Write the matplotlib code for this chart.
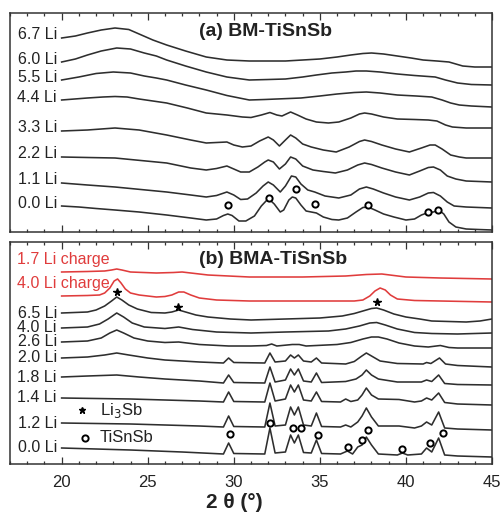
import matplotlib
matplotlib.use("Agg")
import matplotlib.pyplot as plt
from matplotlib.ticker import MultipleLocator

plt.rcParams['font.family'] = ['Liberation Sans', 'DejaVu Sans']

# ---------------- Panel (a) BM-TiSnSb : stacked intensity (a.u.) ----------------
a67_x = [20, 20.8, 21.5, 22.3, 23.1, 23.9, 24.5, 25.3, 26.1, 27.2, 28.4, 29.6, 30.9, 32, 33, 34, 35, 36, 36.8, 37.5, 38, 38.7, 39.5, 40.3, 41, 41.8, 42.5, 42.9, 43.3, 44, 45]
a67_y = [194, 196, 199, 202, 204, 202.5, 198, 192, 187, 181, 175, 172, 171, 171, 171, 172, 173, 175, 177, 178.5, 179, 178, 176, 174, 172, 171, 170, 168, 166, 165, 165]

a60_x = [20, 20.8, 21.5, 22.3, 23.2, 24.0, 24.8, 25.5, 26.1, 27.2, 28.4, 29.6, 30.9, 32, 33, 34.0, 34.8, 35.7, 36.5, 37.1, 37.7, 38.5, 39.5, 40.5, 41.7, 42.3, 43.0, 43.8, 45]
a60_y = [170, 173, 177, 181, 184, 183, 179, 176, 172, 166, 160, 155, 152, 152.5, 153, 155, 157, 159, 160, 161, 161, 160, 158, 156.5, 155, 152, 149, 147.5, 147]

a55_x = [20, 21, 22, 23.0, 24.0, 24.8, 25.5, 26.1, 27.2, 28.4, 29.6, 30.9, 31.8, 32.5, 33.2, 33.9, 35.0, 36, 37.0, 37.7, 38.5, 39.5, 40.6, 41.5, 42.1, 42.6, 43.1, 43.8, 45]
a55_y = [152, 155, 158.5, 160, 159, 156, 154, 152, 147, 142, 136.5, 132, 132.5, 133, 133.5, 134, 136, 138, 139.5, 140, 139, 137, 136, 135, 132, 129, 127, 126, 125]

a44_x = [20, 21.5, 22.4, 23.1, 23.8, 24.5, 25.3, 26.1, 27.3, 28.4, 29.6, 30.5, 31.0, 31.6, 32.1, 32.5, 32.8, 33.3, 33.7, 34.2, 34.8, 35.5, 36.1, 36.8, 37.3, 37.6, 38.0, 38.7, 39.5, 40.5, 41.3, 41.8, 42.3, 42.7, 43.5, 45]
a44_y = [132, 134, 135, 135.5, 135, 133, 131, 129, 124, 119, 117, 115, 114.5, 117, 119.5, 117, 116, 120, 117, 113, 110, 109, 110, 114, 118, 119, 118, 115, 113, 112.5, 112, 111, 107, 105, 104, 104]

a33_x = [20, 21.5, 23.1, 24.5, 26.1, 27.5, 28.4, 29.0, 29.6, 30.0, 30.5, 31.0, 31.5, 32.0, 32.3, 32.65, 33.0, 33.3, 33.6, 34.0, 34.5, 35.2, 35.95, 36.7, 37.3, 37.6, 38.0, 38.6, 39.4, 40.2, 40.9, 41.4, 41.7, 42.1, 42.6, 43.1, 43.5, 45]
a33_y = [101, 102, 104, 102, 97, 92, 89, 89.5, 90, 87, 85, 86, 91, 95, 92, 86, 92, 97, 94, 88, 85, 82, 80, 85, 90.5, 92, 90.5, 87, 83, 80, 84, 87, 87, 83, 77, 75, 74, 74]

a22_x = [20, 21.5, 23.1, 24.6, 26.1, 27.5, 28.4, 29.0, 29.6, 30.0, 30.4, 30.9, 31.4, 31.8, 32.0, 32.3, 32.65, 33.0, 33.3, 33.6, 34.0, 34.6, 35.2, 35.9, 36.6, 37.2, 37.6, 38.0, 38.6, 39.4, 40.2, 40.8, 41.3, 41.6, 42.0, 42.4, 42.9, 43.5, 45]
a22_y = [75, 74.5, 74, 71.5, 69, 64, 62, 63.5, 66, 63, 60, 60, 65, 70, 72, 70, 63, 68, 75, 73, 66, 62, 60.5, 59, 62, 67, 69, 67.5, 64, 60, 57, 61, 64.5, 65, 62, 56, 53, 51, 50]

a11_x = [20, 21.5, 23.1, 24.6, 26.1, 27.5, 28.4, 29.0, 29.6, 30.0, 30.4, 30.8, 31.3, 31.7, 32.0, 32.3, 32.7, 33.0, 33.35, 33.6, 33.9, 34.3, 34.7, 35.3, 36.1, 36.8, 37.3, 37.7, 38.1, 38.7, 39.4, 40.2, 40.8, 41.3, 41.6, 42.0, 42.4, 42.8, 43.5, 45]
a11_y = [49, 47, 45, 42.5, 40, 37, 35, 36.5, 40, 37, 32.5, 33, 39, 46, 50, 47, 40, 46, 56, 55, 48, 42, 40, 36, 34, 37, 43, 45, 43, 39, 35, 32, 35, 39, 39.5, 36, 30, 26, 25, 24]

a00_x = [20, 21, 22, 23.1, 24.5, 26.1, 27.5, 28.4, 29.0, 29.4, 29.65, 29.9, 30.3, 30.7, 31.2, 31.6, 31.9, 32.1, 32.35, 32.7, 32.9, 33.2, 33.4, 33.6, 33.9, 34.2, 34.5, 34.8, 35.2, 35.7, 36.1, 36.6, 37.1, 37.5, 37.8, 38.2, 38.7, 39.3, 40.0, 40.5, 40.9, 41.3, 41.6, 41.9, 42.2, 42.5, 42.9, 43.5, 44.2, 45]
a00_y = [26, 25, 23.5, 22, 20, 17, 14, 12, 13, 16.5, 18, 16.5, 11, 11, 16, 26, 31.5, 32, 28, 20, 22, 32, 35, 34, 27, 21, 20, 19, 15, 12.5, 12, 14, 20, 24.5, 25, 22, 18, 15, 12, 13, 17, 19.5, 20, 22, 18, 10, 5, 3, 2.5, 2]

a_labels = ['6.7 Li', '6.0 Li', '5.5 Li', '4.4 Li', '3.3 Li', '2.2 Li', '1.1 Li', '0.0 Li']
a_tisnsb_x = [29.69, 32.06, 33.63, 34.73, 37.81, 41.29, 41.87]
a_tisnsb_y = [27, 34, 43, 28, 27, 20, 22]

# ---------------- Panel (b) BMA-TiSnSb ----------------
b17c_x = [20, 21.5, 22.5, 22.9, 23.2, 23.5, 24, 25.5, 26.5, 27.0, 27.5, 28.5, 30.9, 34, 36.5, 37.7, 38.6, 39.3, 40, 42, 45]
b17c_y = [192, 192.5, 193, 194, 195, 194, 192, 191, 191.5, 192, 191, 189, 187, 187, 188, 189.5, 190, 188.5, 187, 186, 185]

b40c_x = [20, 21.5, 22.2, 22.5, 22.8, 23.05, 23.25, 23.45, 23.7, 24.0, 24.5, 25.5, 26.0, 26.4, 26.8, 27.1, 27.5, 28.0, 29.0, 30.9, 37.0, 37.5, 37.9, 38.2, 38.5, 38.8, 39.1, 39.5, 40.5, 42, 45]
b40c_y = [168, 168.5, 169, 171, 176, 183, 185, 181, 175, 171, 169, 167, 167.5, 169, 172, 172, 169, 166, 164, 163, 163, 164, 168, 173, 176, 174, 169, 165, 163.5, 163, 162]

b65_x = [20, 21.5, 22.0, 22.5, 22.9, 23.2, 23.5, 23.9, 24.4, 25.2, 26.0, 26.4, 26.8, 27.2, 27.8, 28.5, 29.8, 31, 33, 35, 36.3, 37.0, 37.6, 38.0, 38.3, 38.7, 39.3, 40.0, 40.8, 41.5, 43.5, 44.3, 45]
b65_y = [151, 152, 154, 158, 163, 167, 164, 159, 155, 151.5, 151, 152, 154, 152, 149, 147, 145, 144, 145, 146, 148, 150.5, 153.5, 155.5, 156, 154, 150, 147, 145, 143, 142, 143, 145]

b40_x = [20, 21.5, 22.2, 22.7, 23.2, 23.6, 24.1, 24.8, 26.0, 26.8, 27.6, 29, 31, 33, 35.5, 36.5, 37.3, 37.9, 38.3, 38.8, 39.5, 40.5, 41.5, 43, 45]
b40_y = [136, 137, 140, 145, 151, 147, 141, 137, 135.5, 137, 134.5, 132, 131, 132, 133, 135, 138, 141, 141.5, 139, 135, 131.5, 130.5, 130, 131]

b26_x = [20, 21.5, 22.3, 22.8, 23.2, 23.6, 24.2, 25, 26, 26.8, 28, 29.7, 31, 31.9, 32.2, 32.5, 33.4, 33.8, 34.2, 34.8, 36, 36.8, 37.5, 38.0, 38.4, 38.9, 39.6, 40.5, 41.3, 42.0, 42.5, 43, 45]
b26_y = [122, 123, 126, 131, 134, 131, 126, 123, 121.5, 122, 119.5, 118, 118, 118.5, 120, 118, 119.5, 119.5, 118, 118.5, 119.5, 121.5, 125, 127, 127, 125, 121, 118, 117, 118.5, 116.5, 116, 116]

b20_x = [20, 21.5, 22.5, 23.2, 23.9, 25, 26, 28, 29.4, 29.7, 30.0, 31.8, 32.1, 32.4, 33.0, 33.3, 33.52, 33.75, 34.05, 34.5, 34.8, 35.1, 36.5, 37.0, 37.4, 37.7, 38.0, 38.5, 39.5, 41.0, 41.2, 41.45, 41.95, 42.3, 43, 45]
b20_y = [106, 107, 109, 111, 109, 106, 104, 102, 101, 106, 101.5, 101, 111, 102, 103, 109, 106, 109, 103, 102, 106, 101, 100, 102.5, 107.5, 111, 108, 103, 100.5, 100, 101.5, 100.5, 106, 100, 98.5, 97]

b18_x = [20, 21.5, 23.2, 24.5, 26, 28, 29.4, 29.7, 30.0, 31.8, 32.1, 32.4, 33.0, 33.3, 33.52, 33.75, 34.05, 34.5, 34.8, 35.1, 36.5, 37.1, 37.45, 37.7, 38.0, 38.4, 39.5, 40.9, 41.2, 41.5, 41.9, 42.25, 43, 45]
b18_y = [87, 88, 89, 87, 85, 83, 81, 89, 81.5, 81, 97, 82, 84, 95, 89, 95, 83, 82, 91, 81.5, 82.5, 85, 89, 94, 89, 85, 82, 82, 84, 82.5, 89, 80.5, 79.5, 79]

b14_x = [20, 24, 28, 29.4, 29.7, 30.0, 31.8, 32.1, 32.4, 33.0, 33.3, 33.52, 33.75, 34.05, 34.5, 34.8, 35.1, 36.2, 36.5, 36.8, 37.2, 37.45, 37.7, 38.0, 38.4, 39.6, 40.5, 40.9, 41.2, 41.5, 41.9, 42.25, 43, 45]
b14_y = [66, 65, 63, 62, 72, 62.5, 62, 81, 63, 65, 79, 72, 79, 64, 63, 72, 62.5, 62, 65, 62.5, 64, 69, 76, 69, 65, 64.5, 62, 63, 66, 64, 71, 61.5, 60, 59]

b12_x = [20, 24, 28, 29.4, 29.7, 30.0, 31.8, 32.1, 32.4, 33.0, 33.3, 33.52, 33.75, 34.05, 34.5, 34.8, 35.1, 36.2, 36.5, 36.8, 37.2, 37.45, 37.7, 38.0, 38.4, 39.6, 40.5, 40.9, 41.2, 41.5, 41.9, 42.25, 43, 45]
b12_y = [41, 40, 38, 37, 48, 37.5, 37, 61, 38, 39, 57, 49, 57, 39, 38, 51, 37.5, 37, 39, 37, 42, 48, 56, 47, 38, 38, 36, 38, 42, 39, 52, 36, 35, 34]

b00_x = [20, 24, 27, 29.4, 29.7, 30.0, 31.8, 32.1, 32.4, 33.0, 33.3, 33.52, 33.75, 34.05, 34.5, 34.8, 35.1, 36.2, 36.6, 36.9, 37.2, 37.45, 37.7, 38.0, 38.4, 39.5, 39.8, 40.1, 40.9, 41.2, 41.5, 41.9, 42.25, 43, 45]
b00_y = [16, 14, 12, 10, 21, 10.5, 10, 36, 11, 12, 29, 21, 29, 11.5, 11, 24, 10.5, 10, 13, 10, 17, 19, 27, 19, 10, 9, 11, 9, 10, 16, 12, 26, 9, 8, 7]

b_labels_red = ['1.7 Li charge', '4.0 Li charge']
b_labels = ['6.5 Li', '4.0 Li', '2.6 Li', '2.0 Li', '1.8 Li', '1.4 Li', '1.2 Li', '0.0 Li']
b_li3sb_x = [23.2, 26.75, 38.3]
b_li3sb_y = [172, 157, 162]
b_tisnsb_x = [32.11, 29.80, 33.42, 33.90, 34.92, 36.66, 37.42, 37.82, 39.80, 41.39, 42.17]
b_tisnsb_y = [41, 30, 36, 36, 29, 17, 24, 34, 15, 21, 31]

x_ticks = [20, 25, 30, 35, 40, 45]

# ---------------- drawing ----------------
LINE = '#2e2e2e'
RED = '#e03c3c'
TXT = '#222222'
W, H = 502, 514
fig = plt.figure(figsize=(W / 100, H / 100), dpi=100)

def px_axes(left, top, right, bottom):
    return fig.add_axes([left / W, 1 - bottom / H, (right - left) / W, (bottom - top) / H])

ax_a = px_axes(10, 13, 492, 232)
ax_b = px_axes(10, 242, 492, 464)

for ax in (ax_a, ax_b):
    ax.set_xlim(17, 45)
    ax.xaxis.set_major_locator(MultipleLocator(5))
    ax.xaxis.set_minor_locator(MultipleLocator(1))
    ax.tick_params(axis='x', which='both', direction='in', top=True, bottom=True,
                   color='#333333', width=0.9)
    ax.tick_params(axis='x', which='major', length=5)
    ax.tick_params(axis='x', which='minor', length=2.5)
    ax.set_yticks([])
    for s in ax.spines.values():
        s.set_color('#333333')
        s.set_linewidth(1.1)

ax_a.set_ylim(0, 219)
ax_b.set_ylim(0, 222)
ax_a.tick_params(axis='x', labelbottom=False)
ax_b.set_xticks(x_ticks)
ax_b.set_xticklabels([str(t) for t in x_ticks], fontsize=12, color=TXT)
ax_b.tick_params(axis='x', pad=8)

LFS = 11.5
a_traces = [(a67_x, a67_y), (a60_x, a60_y), (a55_x, a55_y), (a44_x, a44_y),
            (a33_x, a33_y), (a22_x, a22_y), (a11_x, a11_y), (a00_x, a00_y)]
for (xs, ys), lab in zip(a_traces, a_labels):
    ax_a.plot(xs, ys, color=LINE, lw=1.15, solid_joinstyle='round')
    ax_a.text(19.72, ys[0] + 3, lab, ha='right', va='center', fontsize=LFS, color=TXT)
ax_a.plot(a_tisnsb_x, a_tisnsb_y, ls='none', marker='o', ms=4.5, mfc='white',
          mec='black', mew=1.4)
ax_a.text(28.0, 200, '(a) BM-TiSnSb', fontsize=14, fontweight='bold', va='center', ha='left',
          color=TXT)

for (xs, ys), lab in zip([(b17c_x, b17c_y), (b40c_x, b40c_y)], b_labels_red):
    ax_b.plot(xs, ys, color=RED, lw=1.15, solid_joinstyle='round')
    ax_b.text(17.4, ys[0] + 12.5, lab, ha='left', va='center', fontsize=LFS, color=RED)

b_traces = [(b65_x, b65_y), (b40_x, b40_y), (b26_x, b26_y), (b20_x, b20_y),
            (b18_x, b18_y), (b14_x, b14_y), (b12_x, b12_y), (b00_x, b00_y)]
for (xs, ys), lab in zip(b_traces, b_labels):
    ax_b.plot(xs, ys, color=LINE, lw=1.15, solid_joinstyle='round')
    ax_b.text(19.72, ys[0], lab, ha='right', va='center', fontsize=LFS, color=TXT)

ax_b.plot(b_tisnsb_x, b_tisnsb_y, ls='none', marker='o', ms=4.5, mfc='white',
          mec='black', mew=1.4)
ax_b.plot(b_li3sb_x, b_li3sb_y, ls='none', marker='*', ms=5.5, color='black')
ax_b.text(28.0, 204, '(b) BMA-TiSnSb', fontsize=14, fontweight='bold', va='center', ha='left',
          color=TXT)

# inner legend
ax_b.plot([21.2], [54], ls='none', marker='*', ms=5, color='black')
ax_b.text(22.2, 54, 'Li$_3$Sb', fontsize=12, va='center', ha='left', color=TXT)
ax_b.plot([21.33], [26], ls='none', marker='o', ms=4.5, mfc='white', mec='black', mew=1.4)
ax_b.text(22.2, 26, 'TiSnSb', fontsize=12, va='center', ha='left', color=TXT)

fig.text(234 / W, 1 - 503 / H, '2 θ (°)', fontsize=15, fontweight='bold',
         ha='center', va='center', color=TXT)

fig.savefig('out.png', dpi=100)
